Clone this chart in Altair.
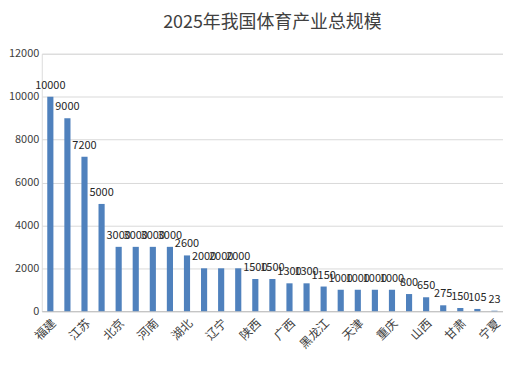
import altair as alt
import pandas as pd

provinces = ["福建", "广东", "江苏", "浙江", "北京", "上海", "河南", "山东", "湖北",
             "四川", "辽宁", "安徽", "陕西", "河北", "广西", "湖南", "黑龙江", "吉林",
             "天津", "江西", "重庆", "云南", "山西", "贵州", "甘肃", "内蒙古", "宁夏"]
values = [10000, 9000, 7200, 5000, 3000, 3000, 3000, 3000, 2600, 2000, 2000, 2000,
          1500, 1500, 1300, 1300, 1150, 1000, 1000, 1000, 1000, 800, 650, 275, 150, 105, 23]
shown_labels = provinces[::2]
y_ticks = [0, 2000, 4000, 6000, 8000, 10000, 12000]

df = pd.DataFrame({"省份": provinces, "规模": values})
FONT = "Noto Sans CJK SC"

x = alt.X("省份:N", sort=provinces,
          scale=alt.Scale(paddingInner=0.64, paddingOuter=0.32),
          axis=alt.Axis(title=None, values=shown_labels, labelAngle=-45,
                        labelFontSize=12, labelColor="#404040", labelFont=FONT,
                        ticks=False, domainColor="#bfbfbf", labelPadding=6))
y = alt.Y("规模:Q", scale=alt.Scale(domain=[0, 12000]),
          axis=alt.Axis(title=None, values=y_ticks, format="d", labelFontSize=11,
                        labelColor="#404040", labelFont=FONT, domain=False,
                        ticks=False, gridColor="#d9d9d9", labelPadding=3))

bars = alt.Chart(df).mark_bar(color="#4f81bd").encode(x=x, y=y)
text = alt.Chart(df).mark_text(baseline="bottom", dy=-6, fontSize=11,
                               color="#262626", font=FONT).encode(
    x=alt.X("省份:N", sort=provinces), y="规模:Q", text="规模:Q")

chart = (bars + text).properties(
    width=464, height=259,
    title=alt.Title("2025年我国体育产业总规模", fontSize=18, font=FONT,
                    fontWeight="normal", color="#404040", offset=16),
    padding={"left": 0, "top": 5, "right": 0, "bottom": 0},
).configure_view(stroke=None).configure(background="white")

chart.save("out.html", embed_options={"renderer": "svg", "actions": False})
